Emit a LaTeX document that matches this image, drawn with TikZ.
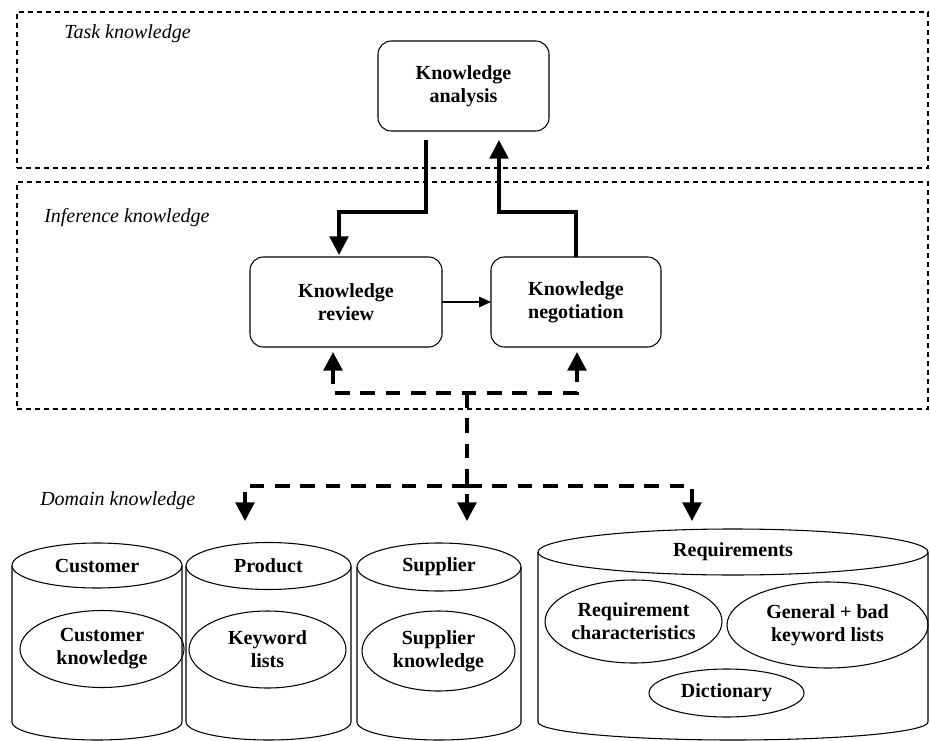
\documentclass[tikz,border=0pt]{standalone}
\usepackage{fontspec}
\setmainfont{Liberation Serif}
\usetikzlibrary{arrows.meta,shapes.geometric,calc}
\begin{document}
\begin{tikzpicture}[x=0.75pt,y=-0.75pt,
  every node/.style={font=\fontsize{15}{17.25}\selectfont},
  zone/.style={draw, line width=0.9pt, dash pattern=on 3.75pt off 3pt, anchor=north west, inner sep=0pt, outer sep=0pt},
  zlabel/.style={anchor=base west, inner sep=0pt, font=\fontsize{15}{17.25}\selectfont\itshape},
  proc/.style={draw, line width=0.8pt, rounded corners=10pt, align=center, font=\fontsize{15}{17.25}\selectfont\bfseries, minimum height=67.5pt, inner sep=0pt, outer sep=0pt},
  dbtop/.style={draw, ellipse, line width=0.8pt, inner sep=0pt, outer sep=0pt, font=\fontsize{15}{17.25}\selectfont\bfseries},
  dbitem/.style={draw, ellipse, line width=0.8pt, inner sep=0pt, outer sep=0pt, align=center, font=\fontsize{15}{17.25}\selectfont\bfseries},
  cylside/.style={line width=0.8pt},
  flow/.style={line width=2.5pt, -{Triangle[length=14pt,width=14pt]}},
  thinflow/.style={line width=0.8pt, -{Triangle[length=9pt,width=8pt]}},
  dline/.style={line width=2.8pt, dash pattern=on 11pt off 8pt},
  dflow/.style={dline, -{Triangle[length=14pt,width=14pt]}},
]
\useasboundingbox (0,0) rectangle (930,741);

% zones
\node[zone, minimum width=683.25pt, minimum height=117pt] (taskzone) at (17,12) {};
\node[zone, minimum width=683.25pt, minimum height=170.25pt] (infzone) at (17,182) {};
\node[zlabel] (tasklbl) at (64,39) {Task knowledge};
\node[zlabel] (inflbl) at (44,223) {Inference knowledge};
\node[zlabel] (domlbl) at (40,505) {Domain knowledge};

% process boxes
\node[proc, minimum width=128.25pt] (ana) at (463.5,86) {Knowledge\\analysis};
\node[proc, minimum width=144pt] (rev) at (346,302) {Knowledge\\review};
\node[proc, minimum width=127.5pt] (neg) at (576,302) {Knowledge\\negotiation};

% cylinders
\node[dbtop, minimum width=127.5pt, minimum height=33.75pt] (cust) at (97,565.5) {Customer};
\draw[cylside] (cust.west) -- (12,722) arc[start angle=180,end angle=360,x radius=63.75pt,y radius=13.5pt] -- (cust.east);
\node[dbtop, minimum width=123.75pt, minimum height=35.25pt] (prod) at (268.5,566) {Product};
\draw[cylside] (prod.west) -- (186,722) arc[start angle=180,end angle=360,x radius=61.875pt,y radius=13.5pt] -- (prod.east);
\node[dbtop, minimum width=123pt, minimum height=36pt] (supp) at (439,567) {Supplier};
\draw[cylside] (supp.west) -- (357,722) arc[start angle=180,end angle=360,x radius=61.5pt,y radius=13.5pt] -- (supp.east);
\node[dbtop, minimum width=292.5pt, minimum height=34.5pt] (req) at (733,552) {Requirements};
\draw[cylside] (req.west) -- (538,722) arc[start angle=180,end angle=360,x radius=146.25pt,y radius=13.5pt] -- (req.east);

% items
\node[dbitem, minimum width=123pt, minimum height=57.75pt] (custk) at (102,649) {Customer\\knowledge};
\node[dbitem, minimum width=117.75pt, minimum height=57.75pt] (kwl) at (267.5,649.5) {Keyword\\lists};
\node[dbitem, minimum width=114.75pt, minimum height=60pt] (suppk) at (438.5,651) {Supplier\\knowledge};
\node[dbitem, minimum width=132.75pt, minimum height=62.25pt] (reqc) at (633.5,621.5) {Requirement\\characteristics};
\node[dbitem, minimum width=150.75pt, minimum height=64.5pt] (gbk) at (827.5,625) {General + bad\\keyword lists};
\node[dbitem, minimum width=116.25pt, minimum height=36pt] (dict) at (726.5,693) {Dictionary};

% connectors
\draw[flow] ($(ana.south)+(-37.5,9)$) |- ($(rev.north)+(-7,-45)$) -- ($(rev.north)+(-7,-2)$);
\draw[flow] (neg.north) |- ($(ana.south)+(35.5,81)$) -- ($(ana.south)+(35.5,9)$);
\draw[thinflow] (rev) -- (neg);

\coordinate (j1) at (467,393);
\coordinate (j2) at (467,486);
\coordinate (t1) at (245,521);
\coordinate (t2) at (467,521);
\coordinate (t3) at (692,521);
\draw[dline, {Triangle[length=14pt,width=14pt]}-{Triangle[length=14pt,width=14pt]}] ($(rev.south)+(-13,5)$) |- (j1) -| ($(neg.south)+(1,5)$);
\draw[dflow] (j1) -- (t2);
\draw[dflow] (j2) -| (t1);
\draw[dflow] (j2) -| (t3);
\end{tikzpicture}
\end{document}
